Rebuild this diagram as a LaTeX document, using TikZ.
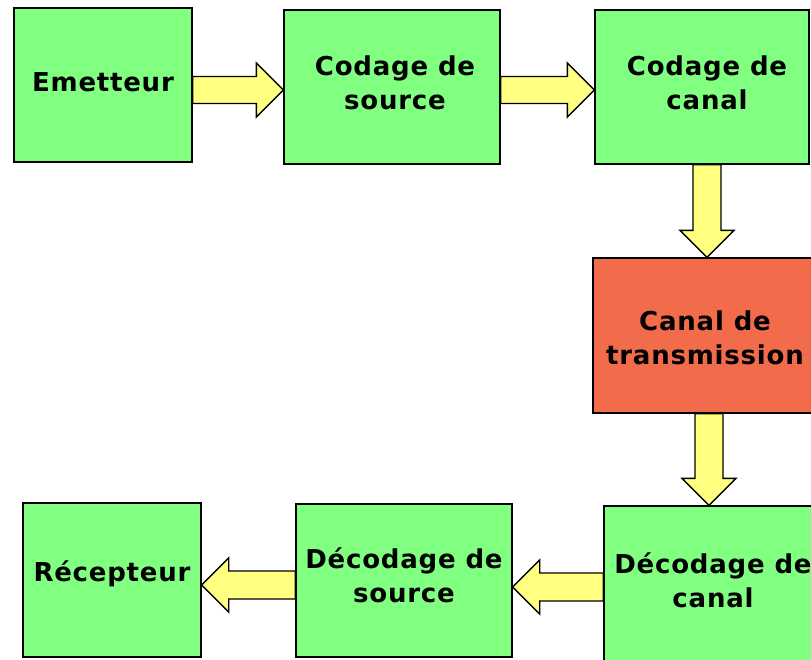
\documentclass[tikz,border=0pt]{standalone}
\usepackage{fontspec}
\newfontfamily\boxfont[LetterSpace=3]{DejaVu Sans}
\usetikzlibrary{calc}
\definecolor{boxgreen}{HTML}{80FF80}
\definecolor{boxred}{HTML}{F26B4B}
\definecolor{arrowyellow}{HTML}{FFFF80}
\tikzset{
  block/.style={draw=black, line width=1.3pt, fill=boxgreen, rectangle, inner sep=0pt},
  blocktext/.style={align=center, inner sep=0pt, font=\boxfont\bfseries\fontsize{26}{34}\selectfont},
  barrow/.style={draw=black, line width=1.3pt, fill=arrowyellow, line join=miter}
}
\begin{document}
\begin{tikzpicture}[x=1pt,y=1pt]
\clip (0,0) rectangle (811,-659);
\fill[white] (0,0) rectangle (811,-659);

\node[block, minimum width=178, minimum height=154] (em) at (103,-85) {};
\node[block, minimum width=216, minimum height=154] (cs) at (392,-87) {};
\node[block, minimum width=214, minimum height=154] (cc) at (702,-87) {};
\node[block, fill=boxred, minimum width=224, minimum height=155] (ct) at (705,-335.5) {};
\node[block, minimum width=218, minimum height=156] (dc) at (713,-584) {};
\node[block, minimum width=216, minimum height=153] (ds) at (404,-580.5) {};
\node[block, minimum width=178, minimum height=154] (re) at (112,-580) {};

\node[blocktext] (emt) at ($(em.center)+(0,3)$) {Emetteur};
\node[blocktext] (cst) at ($(cs.center)+(3,4)$) {Codage de\\source};
\node[blocktext] (cct) at ($(cc.center)+(5,4)$) {Codage de\\canal};
\node[blocktext] (ctt) at ($(ct.center)+(0,-2)$) {Canal de\\transmission};
\node[blocktext] (dct) at ($(dc.center)+(0,4)$) {Décodage de\\canal};
\node[blocktext] (dst) at ($(ds.center)+(0,5)$) {Décodage de\\source};
\node[blocktext] (ret) at ($(re.center)+(0,6)$) {Récepteur};

% right arrows
\foreach \a/\b/\y in {em/cs/-90, cs/cc/-90}{
  \draw[barrow]
    ($(\a.east |- 0,\y)+(0,13.5)$) --
    ($(\b.west |- 0,\y)+(-27,13.5)$) --
    ($(\b.west |- 0,\y)+(-27,27)$) --
    (\b.west |- 0,\y) --
    ($(\b.west |- 0,\y)+(-27,-27)$) --
    ($(\b.west |- 0,\y)+(-27,-13.5)$) --
    ($(\a.east |- 0,\y)+(0,-13.5)$) -- cycle;
}
% down arrows
\foreach \a/\b/\x in {cc/ct/707, ct/dc/709}{
  \draw[barrow]
    ($(\x,0 |- \a.south)+(-14,0)$) --
    ($(\x,0 |- \b.north)+(-14,27)$) --
    ($(\x,0 |- \b.north)+(-27,27)$) --
    (\x,0 |- \b.north) --
    ($(\x,0 |- \b.north)+(27,27)$) --
    ($(\x,0 |- \b.north)+(14,27)$) --
    ($(\x,0 |- \a.south)+(14,0)$) -- cycle;
}
% left arrows
\foreach \a/\b/\y in {dc/ds/-587, ds/re/-585}{
  \draw[barrow]
    ($(\a.west |- 0,\y)+(0,14)$) --
    ($(\b.east |- 0,\y)+(27,14)$) --
    ($(\b.east |- 0,\y)+(27,27)$) --
    (\b.east |- 0,\y) --
    ($(\b.east |- 0,\y)+(27,-27)$) --
    ($(\b.east |- 0,\y)+(27,-14)$) --
    ($(\a.west |- 0,\y)+(0,-14)$) -- cycle;
}
\end{tikzpicture}
\end{document}
